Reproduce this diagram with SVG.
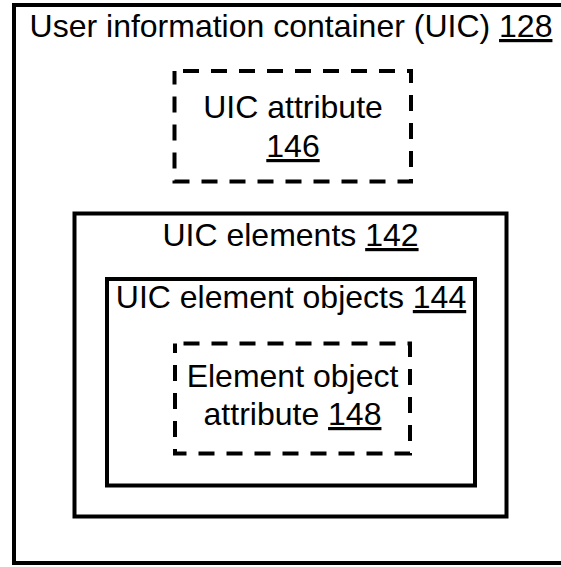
<svg xmlns="http://www.w3.org/2000/svg" width="561" height="567" viewBox="0 0 561 567">
  <style>
    .box { fill: none; stroke: #000; stroke-width: 4; }
    .dash { fill: none; stroke: #000; stroke-width: 4; stroke-dasharray: 16 12; stroke-dashoffset: 19.5; }
    text { font-family: "Liberation Sans", Arial, sans-serif; font-size: 32px; fill: #000; text-anchor: middle; }
    .ref { text-decoration: underline; }
  </style>
  <rect width="561" height="567" fill="#fff"/>

  <g id="uic">
    <rect class="box" x="14" y="5" width="560" height="558"/>
    <text x="291" y="37">User information container (UIC) <tspan class="ref">128</tspan></text>
  </g>

  <g id="uic-attribute">
    <rect class="dash" x="174.5" y="71" width="236.5" height="110.5"/>
    <text x="293" y="118">UIC attribute</text>
    <text x="293" y="157"><tspan class="ref">146</tspan></text>
  </g>

  <g id="uic-elements">
    <rect class="box" x="74.5" y="213.5" width="432" height="303"/>
    <text x="290.5" y="246">UIC elements <tspan class="ref">142</tspan></text>
  </g>

  <g id="uic-element-objects">
    <rect class="box" x="107" y="279" width="368" height="206.5"/>
    <text x="291" y="308">UIC element objects <tspan class="ref">144</tspan></text>
  </g>

  <g id="element-object-attribute">
    <rect class="dash" x="175" y="343.5" width="235" height="110"/>
    <text x="292.5" y="387">Element object</text>
    <text x="292.5" y="425">attribute <tspan class="ref">148</tspan></text>
  </g>

  <g id="connectors"></g>
</svg>
